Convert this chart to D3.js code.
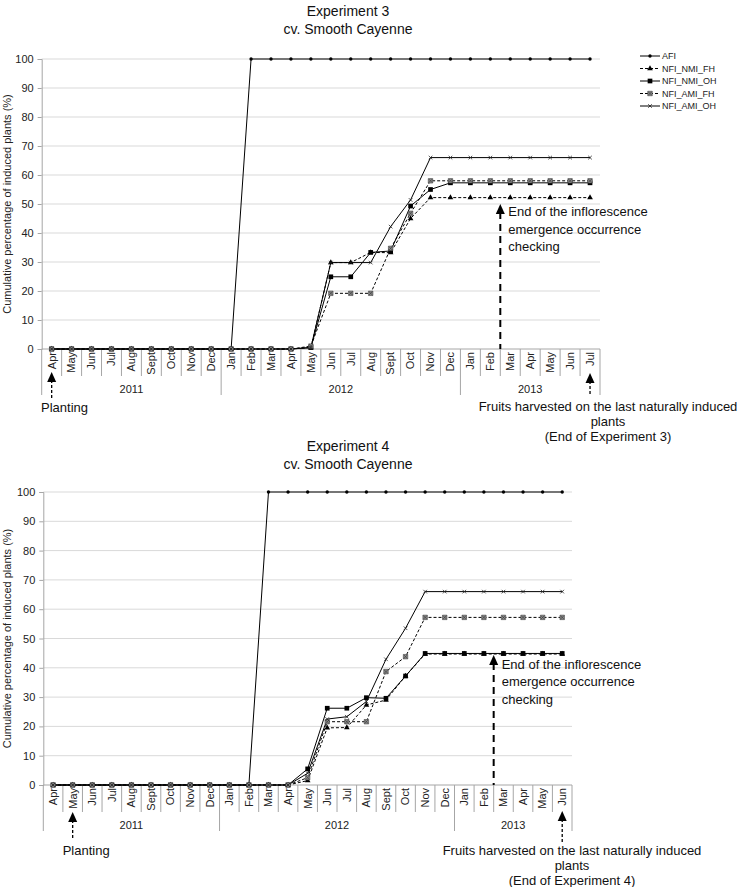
<!DOCTYPE html>
<html>
<head>
<meta charset="utf-8">
<script src="https://cdn.jsdelivr.net/npm/d3@7"></script>
<style>
  body { margin: 0; background: #fff; }
  svg { display: block; font-family: "Liberation Sans", Arial, sans-serif; }
</style>
</head>
<body>
<div id="chart"></div>
<script>
// ---- data: Experiment 3 (Apr 2011 - Jul 2013) ----
const months3 = ["Apr","May","Jun","Jul","Aug","Sept","Oct","Nov","Dec",
  "Jan","Feb","Mar","Apr","May","Jun","Jul","Aug","Sept","Oct","Nov","Dec",
  "Jan","Feb","Mar","Apr","May","Jun","Jul"];
const years3 = [{label: "2011", from: 0, to: 8}, {label: "2012", from: 9, to: 20}, {label: "2013", from: 21, to: 27}];
const afi3    = [0,0,0,0,0,0,0,0,0,0,100,100,100,100,100,100,100,100,100,100,100,100,100,100,100,100,100,100];
const nmiFh3  = [0,0,0,0,0,0,0,0,0,0,0,0,0,0.5,29.8,29.8,33.3,33.2,45,52.2,52.2,52.2,52.2,52.2,52.2,52.2,52.2,52.2];
const nmiOh3  = [0,0,0,0,0,0,0,0,0,0,0,0,0,0.5,24.9,24.9,33.3,33.8,49.3,55,57.3,57.3,57.3,57.3,57.3,57.3,57.3,57.3];
const amiFh3  = [0,0,0,0,0,0,0,0,0,0,0,0,0,1,19.2,19.2,19.2,34.7,46.8,58,58,58,58,58,58,58,58,58];
const amiOh3  = [0,0,0,0,0,0,0,0,0,0,0,0,0,0.5,29.8,29.8,29.8,42.2,51.4,66,66,66,66,66,66,66,66,66];

// ---- data: Experiment 4 (Apr 2011 - Jun 2013) ----
const months4 = ["Apr","May","Jun","Jul","Aug","Sept","Oct","Nov","Dec",
  "Jan","Feb","Mar","Apr","May","Jun","Jul","Aug","Sept","Oct","Nov","Dec",
  "Jan","Feb","Mar","Apr","May","Jun"];
const years4 = [{label: "2011", from: 0, to: 8}, {label: "2012", from: 9, to: 20}, {label: "2013", from: 21, to: 26}];
const afi4    = [0,0,0,0,0,0,0,0,0,0,0,100,100,100,100,100,100,100,100,100,100,100,100,100,100,100,100];
const nmiFh4  = [0,0,0,0,0,0,0,0,0,0,0,0,0,1.5,19.5,19.6,27.3,29,37.2,44.7,44.7,44.7,44.7,44.7,44.7,44.7,44.7];
const nmiOh4  = [0,0,0,0,0,0,0,0,0,0,0,0,0,5.5,26.2,26.2,29.8,29.6,37.2,44.9,44.9,44.9,44.9,44.9,44.9,44.9,44.9];
const amiFh4  = [0,0,0,0,0,0,0,0,0,0,0,0,0,2.5,21.6,21.6,21.6,38.7,43.8,57.2,57.2,57.2,57.2,57.2,57.2,57.2,57.2];
const amiOh4  = [0,0,0,0,0,0,0,0,0,0,0,0,0,4,22.5,23.3,28.5,42.9,53.5,66,66,66,66,66,66,66,66];

const seriesNames = ["AFI", "NFI_NMI_FH", "NFI_NMI_OH", "NFI_AMI_FH", "NFI_AMI_OH"];
const yTicks = [0,10,20,30,40,50,60,70,80,90,100];

const W = 751, H = 887;
const svg = d3.select("#chart").append("svg").attr("width", W).attr("height", H);

// marker + line styles per series
const styles = {
  "AFI":        { dash: null,  sym: "dot" },
  "NFI_NMI_FH": { dash: "3,2", sym: "tri" },
  "NFI_NMI_OH": { dash: null,  sym: "sq" },
  "NFI_AMI_FH": { dash: "3,2", sym: "sqx" },
  "NFI_AMI_OH": { dash: null,  sym: "x" }
};

function drawMarker(g, sym, x, y) {
  if (sym === "dot") {
    g.append("circle").attr("cx", x).attr("cy", y).attr("r", 1.7).attr("fill", "#000");
  } else if (sym === "tri") {
    g.append("path").attr("transform", `translate(${x},${y})`)
      .attr("d", d3.symbol(d3.symbolTriangle, 14)()).attr("fill", "#000");
  } else if (sym === "sq") {
    g.append("path").attr("transform", `translate(${x},${y})`)
      .attr("d", d3.symbol(d3.symbolSquare, 22)()).attr("fill", "#000");
  } else if (sym === "sqx") {
    g.append("path").attr("transform", `translate(${x},${y})`)
      .attr("d", d3.symbol(d3.symbolSquare, 20)()).attr("fill", "#8a8a8a").attr("stroke", "#444").attr("stroke-width", 0.6);
    g.append("path").attr("transform", `translate(${x},${y})`)
      .attr("d", d3.symbol(d3.symbolX, 10)()).attr("fill", "none").attr("stroke", "#333").attr("stroke-width", 0.6);
  } else if (sym === "x") {
    g.append("path").attr("transform", `translate(${x},${y})`)
      .attr("d", d3.symbol(d3.symbolX, 10)()).attr("fill", "none").attr("stroke", "#222").attr("stroke-width", 0.8);
  }
}

function arrow(g, x, yTip, yEnd, heavy) {
  g.append("line").attr("x1", x).attr("x2", x).attr("y1", yTip + 8).attr("y2", yEnd)
    .attr("stroke", "#000").attr("stroke-width", heavy ? 2 : 1.3)
    .attr("stroke-dasharray", heavy ? "7,5" : "3,2");
  g.append("path").attr("d", `M${x},${yTip} L${x - 4.5},${yTip + 10} L${x + 4.5},${yTip + 10} Z`).attr("fill", "#000");
}

function multiline(g, lines, x, y0, step, anchor) {
  const t = g.append("text").attr("font-size", 13).attr("fill", "#111").attr("text-anchor", anchor);
  lines.forEach((s, i) => t.append("tspan").attr("x", x).attr("y", y0 + i * step).text(s));
}

function panel(cfg) {
  const g = svg.append("g");
  const n = cfg.months.length;
  const x = d3.scaleBand().domain(d3.range(n)).range([cfg.x0, cfg.x1]).padding(0);
  const y = d3.scaleLinear().domain([0, 100]).range([cfg.yBottom, cfg.yTop]);
  const bw = x.bandwidth();
  const cx = i => x(i) + bw / 2;

  // titles
  g.append("text").attr("x", 348).attr("y", cfg.titleY).attr("text-anchor", "middle")
    .attr("font-size", 14).attr("fill", "#111").text(cfg.title);
  g.append("text").attr("x", 348).attr("y", cfg.titleY + 18).attr("text-anchor", "middle")
    .attr("font-size", 14).attr("fill", "#111").text("cv. Smooth Cayenne");

  // gridlines
  g.append("g").selectAll("line").data(yTicks.filter(d => d > 0)).join("line")
    .attr("x1", cfg.x0).attr("x2", cfg.x1)
    .attr("y1", d => y(d)).attr("y2", d => y(d))
    .attr("stroke", "#d9d9d9").attr("stroke-width", 1);

  // y axis
  const ya = g.append("g").attr("transform", `translate(${cfg.x0},0)`)
    .call(d3.axisLeft(y).tickValues(yTicks).tickSize(4).tickPadding(4));
  ya.select(".domain").attr("stroke", "#a6a6a6");
  ya.selectAll(".tick line").attr("stroke", "#a6a6a6");
  ya.selectAll(".tick text").attr("font-size", 11).attr("fill", "#222")
    .attr("font-family", "Liberation Sans, Arial, sans-serif");

  g.append("text")
    .attr("transform", `translate(11,${(cfg.yTop + cfg.yBottom) / 2}) rotate(-90)`)
    .attr("text-anchor", "middle").attr("font-size", 11).attr("fill", "#222")
    .text("Cumulative percentage of induced plants (%)");

  // x axis baseline
  g.append("line").attr("x1", cfg.x0).attr("x2", cfg.x1).attr("y1", cfg.yBottom).attr("y2", cfg.yBottom)
    .attr("stroke", "#a6a6a6");

  // month cell separators and year separators
  const yearStarts = new Set(cfg.years.map(d => d.from));
  const bounds = d3.range(n + 1);
  g.append("g").selectAll("line").data(bounds).join("line")
    .attr("x1", i => i === n ? cfg.x1 : x(i)).attr("x2", i => i === n ? cfg.x1 : x(i))
    .attr("y1", cfg.yBottom)
    .attr("y2", i => (i === n || yearStarts.has(i)) ? cfg.yBottom + 46 : cfg.yBottom + 27)
    .attr("stroke", "#a6a6a6").attr("stroke-width", 1);

  // month labels
  g.append("g").selectAll("text").data(cfg.months).join("text")
    .attr("transform", (d, i) => `translate(${cx(i)},${cfg.yBottom + 3}) rotate(-90)`)
    .attr("dy", "0.35em").attr("text-anchor", "end").attr("font-size", 11).attr("fill", "#222")
    .text(d => d);

  // year labels
  g.append("g").selectAll("text").data(cfg.years).join("text")
    .attr("x", d => (x(d.from) + x(d.to) + bw) / 2).attr("y", cfg.yBottom + 44)
    .attr("text-anchor", "middle").attr("font-size", 11).attr("fill", "#222")
    .text(d => d.label);

  // series
  const line = d3.line().x((d, i) => cx(i)).y(d => y(d));
  cfg.series.forEach((vals, k) => {
    const st = styles[seriesNames[k]];
    g.append("path").datum(vals).attr("d", line).attr("fill", "none")
      .attr("stroke", "#000").attr("stroke-width", 1)
      .attr("stroke-dasharray", st.dash);
  });
  cfg.series.forEach((vals, k) => {
    const st = styles[seriesNames[k]];
    const mg = g.append("g");
    vals.forEach((v, i) => drawMarker(mg, st.sym, cx(i), y(v)));
  });

  // annotations
  const endX = x(cfg.endIdx) + bw;
  arrow(g, endX, cfg.endTip, cfg.yBottom, true);
  multiline(g, ["End of the inflorescence", "emergence occurrence", "checking"],
    endX + 8, cfg.endTextY, 17.5, "start");

  arrow(g, cx(cfg.plantIdx), cfg.plantTip, cfg.plantEnd, false);
  g.append("text").attr("x", cfg.plantTextX).attr("y", cfg.plantTextY)
    .attr("font-size", 13).attr("fill", "#111").text("Planting");

  arrow(g, cx(n - 1), cfg.harvTip, cfg.harvEnd, false);
  multiline(g, ["Fruits harvested on the last naturally induced", "plants", cfg.endLabel],
    cfg.harvTextX, cfg.harvTextY, 15, "middle");

  return g;
}

panel({
  title: "Experiment 3", titleY: 16, months: months3, years: years3,
  series: [afi3, nmiFh3, nmiOh3, amiFh3, amiOh3],
  x0: 41.7, x1: 600, yTop: 59, yBottom: 349,
  endIdx: 22, endTip: 204, endTextY: 216,
  plantIdx: 0, plantTip: 372, plantEnd: 398, plantTextX: 41, plantTextY: 412,
  harvTip: 373, harvEnd: 396, harvTextX: 608, harvTextY: 411,
  endLabel: "(End of Experiment 3)"
});

panel({
  title: "Experiment 4", titleY: 451, months: months4, years: years4,
  series: [afi4, nmiFh4, nmiOh4, amiFh4, amiOh4],
  x0: 43.3, x1: 572, yTop: 492, yBottom: 785,
  endIdx: 22, endTip: 655, endTextY: 668.5,
  plantIdx: 1, plantTip: 812, plantEnd: 840, plantTextX: 62.7, plantTextY: 855,
  harvTip: 811, harvEnd: 843, harvTextX: 572, harvTextY: 855,
  endLabel: "(End of Experiment 4)"
});

// legend (top panel only)
const leg = svg.append("g");
seriesNames.forEach((name, k) => {
  const ly = 56 + k * 12.5;
  const st = styles[name];
  leg.append("line").attr("x1", 640).attr("x2", 660).attr("y1", ly).attr("y2", ly)
    .attr("stroke", "#000").attr("stroke-width", 1).attr("stroke-dasharray", st.dash);
  drawMarker(leg, st.sym, 650, ly);
  leg.append("text").attr("x", 662).attr("y", ly).attr("dy", "0.35em")
    .attr("font-size", 9).attr("fill", "#222").text(name);
});
</script>
</body>
</html>
